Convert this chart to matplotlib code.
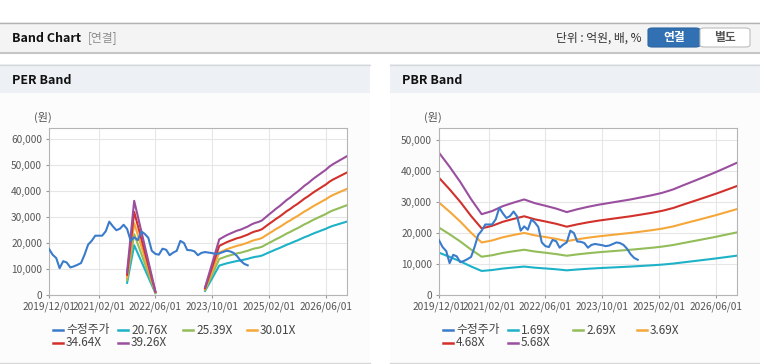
import numpy as np
import pandas as pd
import matplotlib
matplotlib.use("Agg")
import matplotlib.pyplot as plt
from matplotlib.patches import Rectangle, FancyBboxPatch
from matplotlib.lines import Line2D
from matplotlib.ticker import FuncFormatter

plt.rcParams['font.family'] = ['Noto Sans CJK KR', 'DejaVu Sans']

# 수정주가 (월별, 2019/12 부터)
price_start = '2019-12-01'
price = [17700, 15500, 14200, 10300, 13000, 12500, 10600, 11000, 11600, 12300,
         15500, 19400, 20800, 22800, 22800, 22800, 24500, 28200, 26400, 24900,
         25500, 27000, 25400, 20800, 22200, 21100, 24400, 23500, 22000, 17000,
         15800, 15500, 17800, 17400, 15300, 16300, 17000, 20800, 20000, 17300,
         17200, 16800, 15300, 16200, 16500, 16300, 16100, 15800, 16000, 16500,
         17000, 16800, 16200, 15000, 13200, 12000, 11400]

# PER 밴드용 EPS (두 구간)
per_eps_dates_1 = ['2021-10-01', '2021-12-01', '2022-06-01']
per_eps_1 = [225, 922, 35]
per_eps_dates_2 = ['2023-08-01']
per_eps_2_first = [75]
per_eps_2_start = '2023-12-01'
per_eps_2 = [545, 565, 585, 600, 615, 630, 640, 655, 670, 690,
             705, 715, 730, 760, 790, 815, 845, 870, 900, 930,
             955, 985, 1010, 1040, 1070, 1095, 1125, 1150, 1175, 1200,
             1225, 1255, 1280, 1300, 1320, 1340, 1360]
per_multiples = [20.76, 25.39, 30.01, 34.64, 39.26]

# PBR 밴드용 BPS (분기별, 2019/12 부터)
bps_start = '2019-12-01'
bps = [8100, 7300, 6430, 5460, 4600, 4780, 5060, 5260, 5440, 5230,
       5080, 4920, 4720, 4880, 5020, 5140, 5240, 5340, 5440, 5560,
       5680, 5820, 6010, 6260, 6500, 6740, 6990, 7260, 7530]
pbr_multiples = [1.69, 2.69, 3.69, 4.68, 5.68]

xtick_dates = ['2019-12-01', '2021-02-01', '2022-06-01', '2023-10-01', '2025-02-01', '2026-06-01']
xtick_labels = ['2019/12/01', '2021/02/01', '2022/06/01', '2023/10/01', '2025/02/01', '2026/06/01']

price_color = '#3b7bcb'
band_colors = ['#1db2c8', '#93bd59', '#f5a73a', '#d2312b', '#9a4f9e']

W, H = 760, 364
fig = plt.figure(figsize=(W / 100, H / 100), dpi=100)


def rect(x, y, w, h, **kw):
    fig.add_artist(Rectangle((x / W, 1 - (y + h) / H), w / W, h / H,
                             transform=fig.transFigure, zorder=-2, **kw))


def hline(x0, x1, y, color, lw=1.0):
    fig.add_artist(Line2D([x0 / W, x1 / W], [1 - y / H, 1 - y / H],
                          transform=fig.transFigure, color=color, lw=lw, zorder=-1))


def text(x, y, s, **kw):
    fig.text(x / W, 1 - y / H, s, va='center', **kw)


# 상단 바
rect(0, 22, W, 31, facecolor='#f4f4f4', edgecolor='none')
hline(0, W, 22.5, '#b3b3b3')
hline(0, W, 53, '#c6c6c6', lw=1.5)
text(12, 38, 'Band Chart', fontsize=9, fontweight='bold', color='#111111')
text(88, 38, '[연결]', fontsize=8.5, color='#8c8c8c')
text(642, 38, '단위 : 억원, 배, %', fontsize=8.5, color='#333333', ha='right')
fig.add_artist(FancyBboxPatch((648 / W, 1 - 47 / H), 52 / W, 19 / H,
                              boxstyle='round,pad=0,rounding_size=0.006',
                              transform=fig.transFigure, zorder=-1,
                              facecolor='#3170b3', edgecolor='#2c64a0', lw=0.8))
fig.add_artist(FancyBboxPatch((700 / W, 1 - 47 / H), 50 / W, 19 / H,
                              boxstyle='round,pad=0,rounding_size=0.006',
                              transform=fig.transFigure, zorder=-1,
                              facecolor='white', edgecolor='#bdbdbd', lw=0.8))
text(674, 38, '연결', fontsize=8.5, fontweight='bold', color='white', ha='center')
text(725, 38, '별도', fontsize=8.5, fontweight='bold', color='#555555', ha='center')


def draw_panel(x0, title, bands, labels):
    rect(x0, 64, 370, 29, facecolor='#edf1f6', edgecolor='none')
    hline(x0, x0 + 370, 64.5, '#d8d8d8')
    rect(x0, 93, 370, 269, facecolor='#fcfcfc', edgecolor='none')
    hline(x0, x0 + 370, 362.5, '#d6d6d6')
    text(x0 + 12, 80, title, fontsize=9, fontweight='bold', color='#111111')
    text(x0 + 43, 117, '(원)', fontsize=8, color='#555555', ha='center')

    ax = fig.add_axes([(x0 + 49) / W, 1 - 295 / H, 298 / W, 167 / H], zorder=2)
    ax.set_facecolor('white')

    for seg in bands:
        for (dates, vals), c in zip(seg, band_colors):
            ax.plot(dates, vals, color=c, lw=1.5, solid_joinstyle='round')

    px = pd.date_range(price_start, periods=len(price), freq='MS')
    ax.plot(px, price, color=price_color, lw=1.5, zorder=5)

    ax.set_xlim(pd.Timestamp('2019-12-01'), pd.Timestamp('2026-12-01'))
    ax.set_xticks(pd.to_datetime(xtick_dates))
    ax.set_xticklabels(xtick_labels)
    ax.grid(True, color='#e6e6e6', lw=0.8)
    ax.set_axisbelow(True)
    for s in ax.spines.values():
        s.set_color('#b5b5b5')
    ax.tick_params(length=2.5, width=0.8, color='#999999', labelsize=7.3,
                   labelcolor='#555555', pad=2.5)
    ax.yaxis.set_major_formatter(FuncFormatter(lambda v, p: f'{int(v):,}'))

    # 범례
    pos = [(53, 330), (118, 330), (183, 330), (247, 330), (53, 343), (118, 343)]
    cols = [price_color] + band_colors
    for (lx, ly), c, lab in zip(pos, cols, labels):
        fig.add_artist(Line2D([(x0 + lx) / W, (x0 + lx + 10) / W],
                              [1 - ly / H, 1 - ly / H],
                              transform=fig.transFigure, color=c, lw=1.8))
        text(x0 + lx + 13, ly, lab, fontsize=8.5, color='#444444')
    return ax


# PER
seg1_dates = pd.to_datetime(per_eps_dates_1)
seg2_dates = pd.to_datetime(per_eps_dates_2).append(
    pd.date_range(per_eps_2_start, periods=len(per_eps_2), freq='MS'))
seg2_eps = np.array(per_eps_2_first + per_eps_2)
per_bands = [
    [(seg1_dates, np.array(per_eps_1) * m) for m in per_multiples],
    [(seg2_dates, seg2_eps * m) for m in per_multiples],
]
ax1 = draw_panel(0, 'PER Band', per_bands,
                 ['수정주가'] + [f'{m:.2f}X' for m in per_multiples])
ax1.set_ylim(0, 64200)
ax1.set_yticks(np.arange(0, 60001, 10000))

# PBR
bps_dates = pd.date_range(bps_start, periods=len(bps), freq='3MS')
pbr_bands = [[(bps_dates, np.array(bps) * m) for m in pbr_multiples]]
ax2 = draw_panel(390, 'PBR Band', pbr_bands,
                 ['수정주가'] + [f'{m:.2f}X' for m in pbr_multiples])
ax2.set_ylim(0, 54000)
ax2.set_yticks(np.arange(0, 50001, 10000))

fig.savefig('out.png', dpi=100)
